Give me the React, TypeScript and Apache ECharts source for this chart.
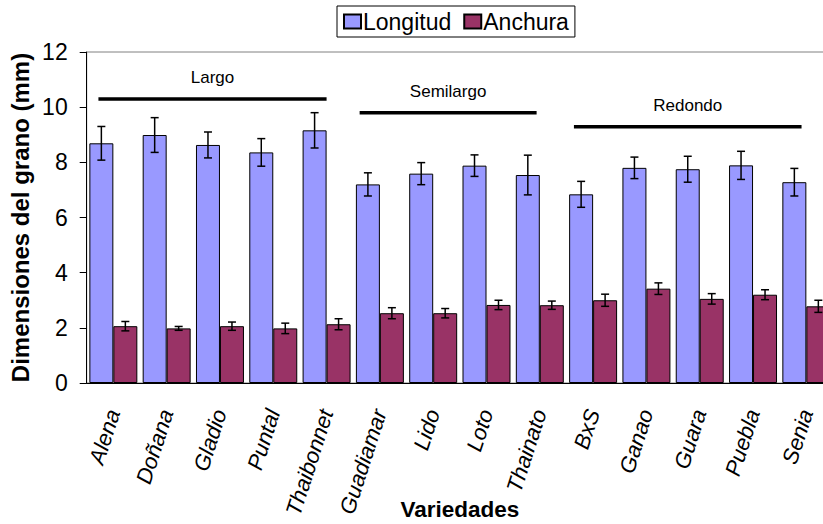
import React, { useEffect, useRef } from "react";
import * as echarts from "echarts";

const categories = ["Alena", "Doñana", "Gladio", "Puntal", "Thaibonnet", "Guadiamar", "Lido", "Loto", "Thainato", "BxS", "Ganao", "Guara", "Puebla", "Senia"];
const longitud = [8.69, 8.99, 8.63, 8.36, 9.16, 7.2, 7.59, 7.88, 7.54, 6.84, 7.8, 7.75, 7.89, 7.28];
const longitudErr = [0.61, 0.63, 0.47, 0.5, 0.64, 0.42, 0.4, 0.39, 0.72, 0.47, 0.39, 0.47, 0.51, 0.5];
const anchura = [2.06, 1.98, 2.06, 1.98, 2.13, 2.53, 2.53, 2.83, 2.82, 3.0, 3.42, 3.05, 3.2, 2.78];
const anchuraErr = [0.17, 0.07, 0.15, 0.19, 0.2, 0.2, 0.17, 0.17, 0.15, 0.22, 0.21, 0.19, 0.18, 0.22];

const groupNames = ["Largo", "Semilargo", "Redondo"];
const groupStart = [-0.28, 4.62, 8.64];
const groupEnd = [4.0, 7.94, 12.91];
const groupLevel = [10.3, 9.8, 9.29];

const yTicks = { min: 0, max: 12, interval: 2 };

const FONT = "'Liberation Sans', Arial, sans-serif";

export default function App() {
  const ref = useRef<HTMLDivElement>(null);
  useEffect(() => {
    if (!ref.current) return;
    const chart = echarts.init(ref.current, null, { renderer: "svg" });

    const errData: any[] = [];
    longitud.forEach((v, i) => errData.push([i, v, longitudErr[i], 0]));
    anchura.forEach((v, i) => errData.push([i, v, anchuraErr[i], 1]));

    const groupData = groupNames.map((n, i) => [groupStart[i], groupEnd[i], groupLevel[i], n]);

    chart.setOption({
      animation: false,
      textStyle: { fontFamily: FONT, color: "#000" },
      legend: {
        data: ["Longitud", "Anchura"],
        left: 337,
        top: 6,
        padding: [4, 6, 4, 6],
        borderColor: "#000",
        borderWidth: 1,
        itemWidth: 17,
        itemHeight: 14,
        itemGap: 12,
        icon: "rect",
        textStyle: { fontSize: 23, color: "#000", fontFamily: FONT, padding: [0, 0, 0, -3] },
      },
      grid: {
        left: 86.7,
        top: 52,
        bottom: 141,
        right: -10,
        outerBoundsMode: "none",
        containLabel: false,
        show: true,
        borderColor: "#808080",
        borderWidth: 1,
        backgroundColor: "transparent",
      },
      xAxis: [
        {
          type: "category",
          data: categories,
          name: "Variedades",
          nameLocation: "middle",
          nameGap: 115,
          nameMoveOverlap: false,
          nameTextStyle: { fontSize: 22.5, fontWeight: "bold", color: "#000", fontFamily: FONT },
          axisLine: { lineStyle: { color: "#000", width: 1 } },
          axisTick: { length: 6, lineStyle: { color: "#000" } },
          axisLabel: {
            interval: 0,
            rotate: 72,
            fontSize: 22,
            fontStyle: "italic",
            color: "#000",
            margin: 27,
            fontFamily: FONT,
          },
          splitLine: { show: false },
        },
        { type: "value", min: -0.5, max: 13.5, show: false },
      ],
      yAxis: {
        type: "value",
        min: yTicks.min,
        max: yTicks.max,
        interval: yTicks.interval,
        name: "Dimensiones del grano (mm)",
        nameLocation: "middle",
        nameGap: 54,
        nameMoveOverlap: false,
        nameTextStyle: { fontSize: 24, fontWeight: "bold", color: "#000", fontFamily: FONT },
        axisLine: { show: true, onZero: false, lineStyle: { color: "#000", width: 1 } },
        axisTick: { show: true, length: 7, lineStyle: { color: "#000" } },
        axisLabel: { fontSize: 23, color: "#000", margin: 19, fontFamily: FONT },
        splitLine: { show: false },
      },
      series: [
        {
          name: "Longitud",
          type: "bar",
          data: longitud,
          barGap: "0%",
          barCategoryGap: "10%",
          itemStyle: { color: "#9999FF", borderColor: "#000", borderWidth: 1 },
        },
        {
          name: "Anchura",
          type: "bar",
          data: anchura,
          barGap: "0%",
          barCategoryGap: "10%",
          itemStyle: { color: "#993366", borderColor: "#000", borderWidth: 1 },
        },
        {
          type: "custom",
          name: "err",
          data: errData,
          z: 10,
          renderItem: (params: any, api: any) => {
            const idx = api.value(0);
            const v = api.value(1);
            const e = api.value(2);
            const s = api.value(3);
            const bandW = api.size([1, 0])[0];
            const off = (s === 0 ? -1 : 1) * (bandW * 0.9) / 4;
            const top = api.coord([idx, v + e]);
            const bot = api.coord([idx, v - e]);
            const x = top[0] + off;
            const cap = 4;
            const st = { stroke: "#000", lineWidth: 1.5 };
            return {
              type: "group",
              children: [
                { type: "line", shape: { x1: x, y1: top[1], x2: x, y2: bot[1] }, style: st },
                { type: "line", shape: { x1: x - cap, y1: top[1], x2: x + cap, y2: top[1] }, style: st },
                { type: "line", shape: { x1: x - cap, y1: bot[1], x2: x + cap, y2: bot[1] }, style: st },
              ],
            };
          },
        },
        {
          type: "custom",
          name: "groups",
          xAxisIndex: 1,
          data: groupData,
          z: 10,
          renderItem: (params: any, api: any) => {
            const a = api.coord([api.value(0), api.value(2)]);
            const b = api.coord([api.value(1), api.value(2)]);
            const label = groupNames[params.dataIndex];
            return {
              type: "group",
              children: [
                { type: "line", shape: { x1: a[0], y1: a[1], x2: b[0], y2: b[1] }, style: { stroke: "#000", lineWidth: 3.5 } },
                {
                  type: "text",
                  x: (a[0] + b[0]) / 2,
                  y: a[1] - 21,
                  style: { text: label, fontSize: 17, fontFamily: FONT, fill: "#000", align: "center", verticalAlign: "middle" },
                },
              ],
            };
          },
        },
      ],
    });
    return () => chart.dispose();
  }, []);
  return <div ref={ref} style={{ position: "absolute", left: 0, top: 0, width: 823, height: 524 }} />;
}
